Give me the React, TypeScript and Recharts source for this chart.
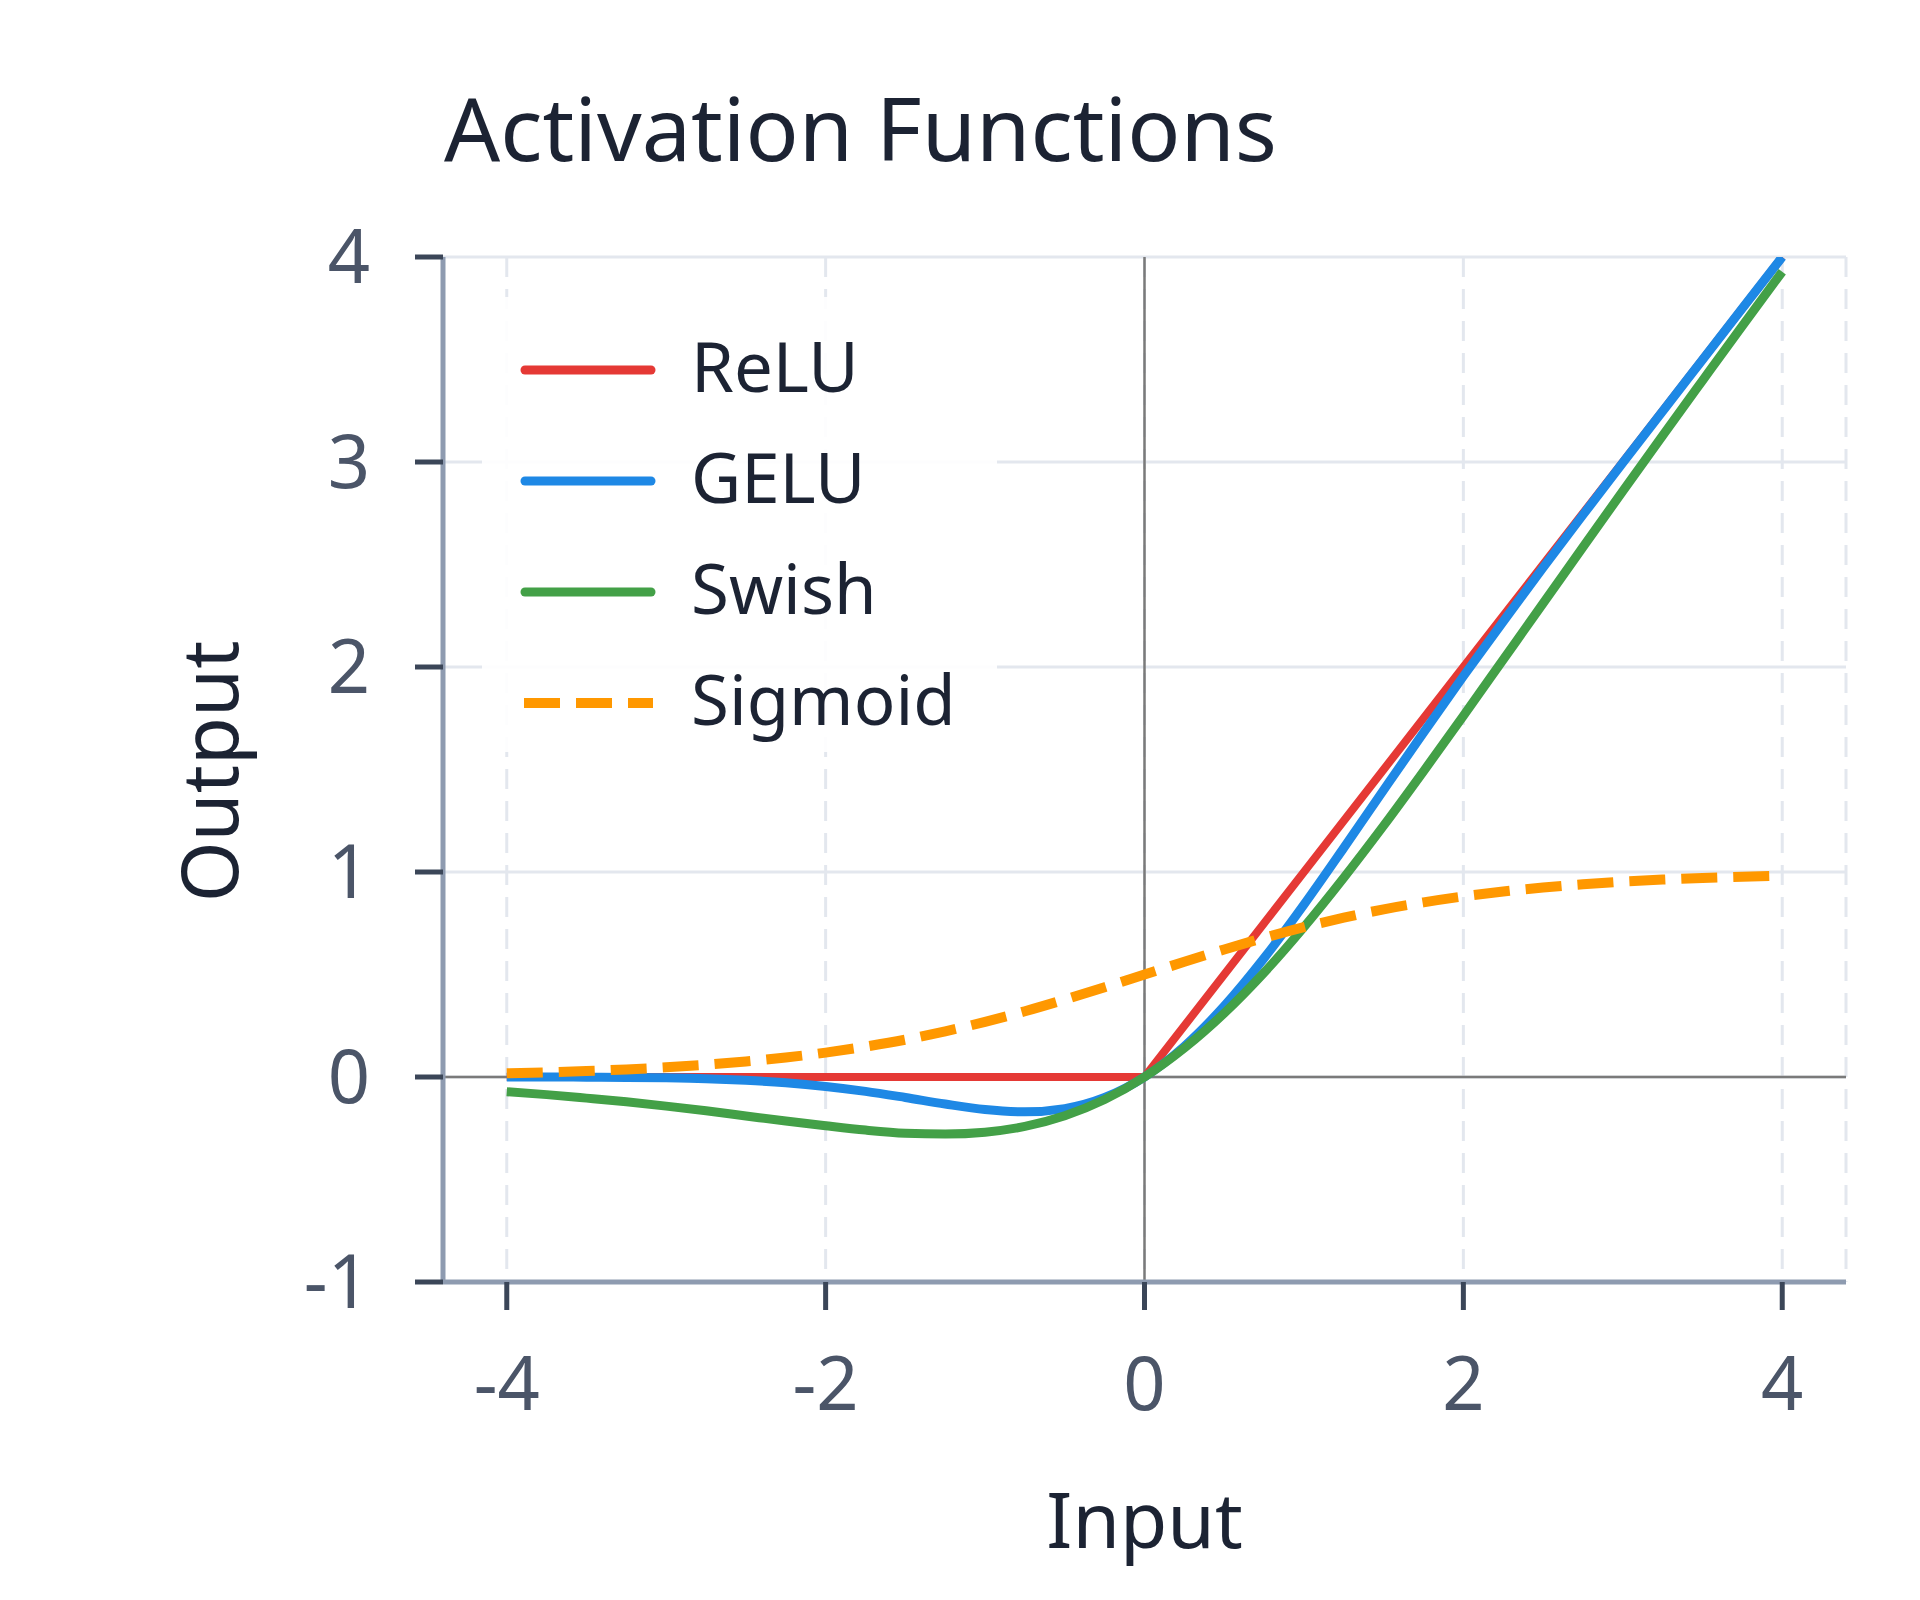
import React from "react";
import {
  LineChart, Line, XAxis, YAxis, CartesianGrid, ReferenceLine, Legend,
} from "recharts";

const FONT = '"Noto Sans", "Open Sans", sans-serif';

// input values sampled along the x axis
const inputs = [
  -4, -3.75, -3.5, -3.25, -3, -2.75, -2.5, -2.25, -2, -1.75, -1.5, -1.25, -1, -0.75, -0.5, -0.25,
  0, 0.25, 0.5, 0.75, 1, 1.25, 1.5, 1.75, 2, 2.25, 2.5, 2.75, 3, 3.25, 3.5, 3.75, 4,
];

// outputs
const reluValues = [
  0, 0, 0, 0, 0, 0, 0, 0, 0, 0, 0, 0, 0, 0, 0, 0,
  0, 0.25, 0.5, 0.75, 1, 1.25, 1.5, 1.75, 2, 2.25, 2.5, 2.75, 3, 3.25, 3.5, 3.75, 4,
];
const geluValues = [
  0, 0, -0.001, -0.002, -0.004, -0.008, -0.016, -0.028, -0.046, -0.07, -0.1, -0.132, -0.159, -0.17, -0.154, -0.1,
  0, 0.15, 0.346, 0.58, 0.841, 1.118, 1.4, 1.68, 1.955, 2.222, 2.485, 2.742, 2.996, 3.248, 3.499, 3.75, 4,
];
const swishValues = [
  -0.072, -0.086, -0.103, -0.121, -0.142, -0.165, -0.19, -0.215, -0.238, -0.259, -0.274, -0.278, -0.269, -0.241, -0.189, -0.11,
  0, 0.141, 0.311, 0.509, 0.731, 0.972, 1.226, 1.491, 1.762, 2.036, 2.31, 2.585, 2.858, 3.129, 3.397, 3.664, 3.928,
];
const sigmoidValues = [
  0.018, 0.023, 0.029, 0.037, 0.047, 0.06, 0.076, 0.095, 0.119, 0.148, 0.182, 0.223, 0.269, 0.321, 0.378, 0.438,
  0.5, 0.562, 0.622, 0.679, 0.731, 0.777, 0.818, 0.852, 0.881, 0.905, 0.924, 0.94, 0.953, 0.963, 0.971, 0.977, 0.982,
];

const seriesKeys = ["relu", "gelu", "swish", "sigmoid"];
const seriesNames = ["ReLU", "GELU", "Swish", "Sigmoid"];
const seriesColors = ["#e53935", "#1e88e5", "#43a047", "#ff9800"];

const xTicks = [-4, -2, 0, 2, 4];
const yTicks = [-1, 0, 1, 2, 3, 4];

const data = inputs.map((x, i) => ({
  x,
  relu: reluValues[i],
  gelu: geluValues[i],
  swish: swishValues[i],
  sigmoid: sigmoidValues[i],
}));

const textDark = "#1c2333";
const tickText = "#4b5568";
const gridColor = "#e3e7ee";
const zeroColor = "#7a7a7a";

function renderXLabel(props: any) {
  const vb = props.viewBox ?? { x: 443, y: 1282, width: 1403, height: 318 };
  return (
    <text x={vb.x + vb.width / 2} y={vb.y + 266} textAnchor="middle" fontSize={77} fill={textDark} fontFamily={FONT}>
      Input
    </text>
  );
}

function renderYLabel(props: any) {
  const vb = props.viewBox ?? { x: 0, y: 257, width: 443, height: 1025 };
  const cx = vb.x + 238;
  const cy = vb.y + vb.height / 2 + 2;
  return (
    <text x={cx} y={cy} transform={`rotate(-90 ${cx} ${cy})`} textAnchor="middle" fontSize={78} fill={textDark} fontFamily={FONT}>
      Output
    </text>
  );
}

function LegendBox() {
  return (
    <div
      style={{
        width: 515,
        height: 455,
        background: "rgba(255,255,255,0.9)",
        paddingTop: 17,
        boxSizing: "border-box",
        fontFamily: FONT,
      }}
    >
      {seriesNames.map((name, i) => (
        <div key={name} style={{ display: "flex", alignItems: "center", height: 111 }}>
          <svg width={136} height={20} style={{ marginLeft: 38, flex: "none" }}>
            {seriesKeys[i] === "sigmoid" ? (
              <line x1={4} y1={10} x2={133} y2={10} stroke={seriesColors[i]} strokeWidth={10} strokeDasharray="36 16" />
            ) : (
              <line x1={5} y1={10} x2={131} y2={10} stroke={seriesColors[i]} strokeWidth={9} strokeLinecap="round" />
            )}
          </svg>
          <span style={{ marginLeft: 35, fontSize: 69, color: textDark, lineHeight: "111px", position: "relative", top: -4 }}>
            {name}
          </span>
        </div>
      ))}
    </div>
  );
}

export default function App() {
  return (
    <div style={{ position: "absolute", left: 0, top: 0, width: 1920, height: 1600, background: "#fff", fontFamily: FONT }}>
      <div
        style={{
          position: "absolute",
          left: 444,
          top: 83,
          fontSize: 88,
          lineHeight: "88px",
          color: textDark,
          whiteSpace: "nowrap",
          zIndex: 2,
        }}
      >
        Activation Functions
      </div>
      <LineChart width={1920} height={1600} data={data} margin={{ top: 257, right: 74, bottom: 0, left: 0 }}>
        <CartesianGrid vertical={false} stroke={gridColor} strokeWidth={3} />
        <CartesianGrid horizontal={false} stroke={gridColor} strokeWidth={3} strokeDasharray="20 12" />
        <XAxis
          dataKey="x"
          type="number"
          domain={[-4.4, 4.4]}
          ticks={xTicks}
          allowDataOverflow
          height={318}
          tickSize={28}
          tickMargin={47}
          axisLine={{ stroke: "#8e9bb0", strokeWidth: 5 }}
          tickLine={{ stroke: "#3b4658", strokeWidth: 5 }}
          tick={{ fill: tickText, fontSize: 74, fontFamily: FONT }}
          label={renderXLabel}
        />
        <YAxis
          type="number"
          domain={[-1, 4]}
          ticks={yTicks}
          allowDataOverflow
          width={443}
          tickSize={28}
          tickMargin={45}
          axisLine={{ stroke: "#8e9bb0", strokeWidth: 5 }}
          tickLine={{ stroke: "#3b4658", strokeWidth: 5 }}
          tick={{ fill: tickText, fontSize: 74, fontFamily: FONT }}
          label={renderYLabel}
        />
        <ReferenceLine x={0} stroke={zeroColor} strokeWidth={2.5} />
        <ReferenceLine y={0} stroke={zeroColor} strokeWidth={2.5} />
        <Legend
          layout="vertical"
          align="center"
          verticalAlign="middle"
          content={() => <LegendBox />}
          wrapperStyle={{ left: 482, top: 297, width: 515, height: 455 }}
        />
        <Line type="linear" dataKey="relu" name="ReLU" stroke={seriesColors[0]} strokeWidth={8} dot={false} activeDot={false} isAnimationActive={false} />
        <Line type="monotone" dataKey="gelu" name="GELU" stroke={seriesColors[1]} strokeWidth={9} dot={false} activeDot={false} isAnimationActive={false} />
        <Line type="monotone" dataKey="swish" name="Swish" stroke={seriesColors[2]} strokeWidth={9} dot={false} activeDot={false} isAnimationActive={false} />
        <Line type="monotone" dataKey="sigmoid" name="Sigmoid" stroke={seriesColors[3]} strokeWidth={10} strokeDasharray="36 16" dot={false} activeDot={false} isAnimationActive={false} />
      </LineChart>
    </div>
  );
}
